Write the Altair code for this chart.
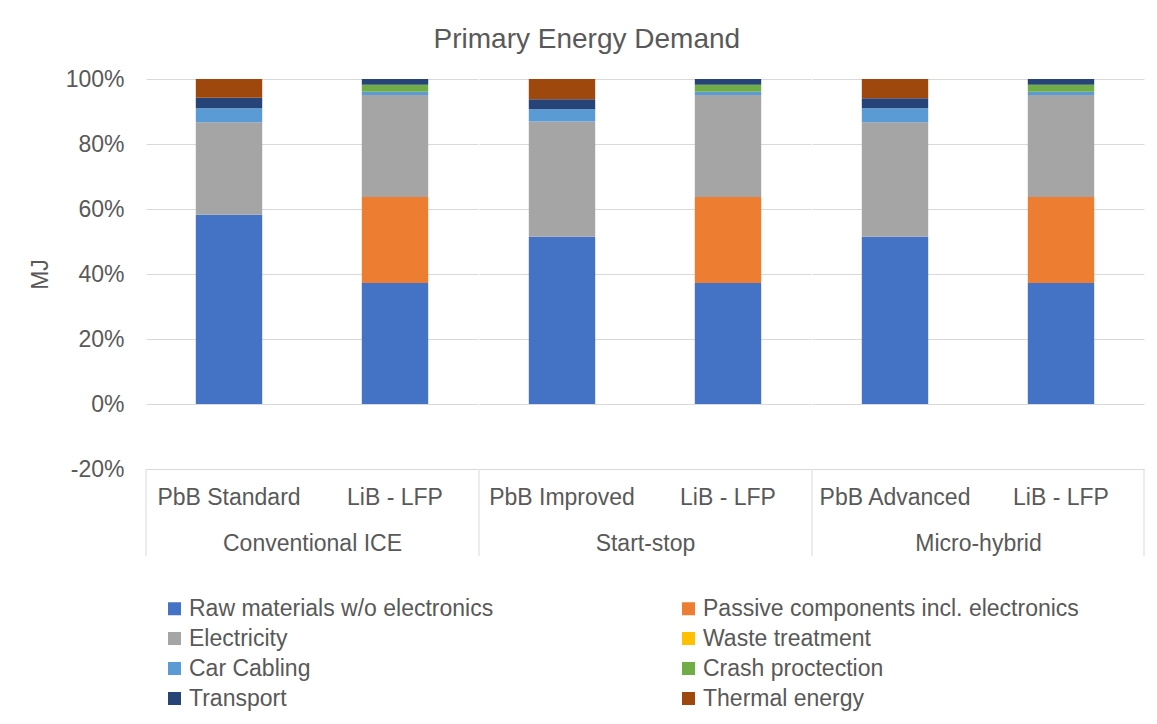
import altair as alt
import pandas as pd

groups = ["Conventional ICE", "Conventional ICE", "Start-stop", "Start-stop", "Micro-hybrid", "Micro-hybrid"]
batteries = ["PbB Standard", "LiB - LFP", "PbB Improved", "LiB - LFP", "PbB Advanced", "LiB - LFP"]

series = ["Raw materials w/o electronics", "Passive components incl. electronics", "Electricity",
          "Waste treatment", "Car Cabling", "Crash proctection", "Transport", "Thermal energy"]
colors = ["#4472C4", "#ED7D31", "#A5A5A5", "#FFC000", "#5B9BD5", "#70AD47", "#264478", "#9E480E"]

# shares in percent, per bar
raw_materials = [58.2, 37.2, 51.5, 37.2, 51.5, 37.2]
passive = [0.0, 26.5, 0.0, 26.5, 0.0, 26.5]
electricity = [28.5, 31.4, 35.4, 31.4, 35.2, 31.4]
waste = [0.0, 0.0, 0.0, 0.0, 0.0, 0.0]
cabling = [4.3, 1.0, 3.8, 1.0, 4.3, 1.0]
crash = [0.0, 2.1, 0.0, 2.1, 0.0, 2.1]
transport = [3.2, 1.8, 3.1, 1.8, 3.1, 1.8]
thermal = [5.8, 0.0, 6.2, 0.0, 5.9, 0.0]

y_ticks = [-0.2, 0.0, 0.2, 0.4, 0.6, 0.8, 1.0]

all_values = [raw_materials, passive, electricity, waste, cabling, crash, transport, thermal]
rows = []
for i in range(len(batteries)):
    for j, s in enumerate(series):
        rows.append({"group": groups[i], "battery": batteries[i], "series": s,
                     "idx": j, "value": all_values[j][i] / 100.0})
df = pd.DataFrame(rows)

FONT = "Liberation Sans"
TXT = "#595959"
GRID = "#D9D9D9"
FS = 23
W = 332
H = 390

group_names = ["Conventional ICE", "Start-stop", "Micro-hybrid"]


def panel(k):
    g = group_names[k]
    order = [batteries[2 * k], batteries[2 * k + 1]]
    if k == 0:
        yaxis = alt.Axis(values=y_ticks, format=".0%", labelExpr="replace(datum.label, '\u2212', '-')",
                         title="MJ", grid=True, gridColor=GRID,
                         domain=False, ticks=False, labelPadding=22, labelFontSize=FS,
                         labelColor=TXT, labelFont=FONT, titleFontSize=FS, titleColor=TXT,
                         titleFont=FONT, titleFontWeight="normal", titlePadding=13)
    else:
        yaxis = alt.Axis(values=y_ticks, title=None, labels=False, grid=True, gridColor=GRID,
                         domain=False, ticks=False)
    bars = alt.Chart(df).transform_filter(alt.datum.group == g).mark_bar().encode(
        x=alt.X("battery:N", sort=order,
                scale=alt.Scale(paddingInner=0.6, paddingOuter=0.3),
                axis=alt.Axis(title=g, labelAngle=0, ticks=False, domain=False,
                              labelPadding=17, labelFontSize=FS, labelColor=TXT, labelFont=FONT,
                              titleFontSize=FS, titleColor=TXT, titleFont=FONT,
                              titleFontWeight="normal", titlePadding=23, labelLimit=300)),
        y=alt.Y("value:Q", stack="zero", scale=alt.Scale(domain=[-0.2, 1.0], nice=False, zero=False),
                axis=yaxis),
        color=alt.Color("series:N", scale=alt.Scale(domain=series, range=colors),
                        legend=alt.Legend(title=None, orient="none", columns=2, direction="horizontal",
                                          legendX=17, legendY=518, symbolType="square", symbolSize=169,
                                          symbolStrokeWidth=0, labelFontSize=FS, labelColor=TXT,
                                          labelFont=FONT, labelLimit=600, columnPadding=183,
                                          rowPadding=6, labelOffset=3)),
        order=alt.Order("idx:Q"),
    )
    sep = pd.DataFrame({"a": [0]})
    layers = [bars,
              alt.Chart(sep).mark_rule(color=GRID, strokeWidth=1).encode(
                  x=alt.value(0), y=alt.value(H), y2=alt.value(H + 87))]
    if k == 2:
        layers.append(alt.Chart(sep).mark_rule(color=GRID, strokeWidth=1).encode(
            x=alt.value(W), y=alt.value(H), y2=alt.value(H + 87)))
    return alt.layer(*layers).properties(width=W, height=H)


chart = alt.hconcat(panel(0), panel(1), panel(2), spacing=0).resolve_scale(
    color="shared"
).properties(
    title=alt.Title("Primary Energy Demand", fontSize=28, color=TXT, font=FONT,
                    fontWeight="normal", anchor="middle", offset=14),
    background="white",
    padding={"left": 29, "top": 26, "right": 3, "bottom": 4},
).configure_view(stroke=None)

chart.save("out.html", embed_options={"renderer": "svg", "actions": False})
